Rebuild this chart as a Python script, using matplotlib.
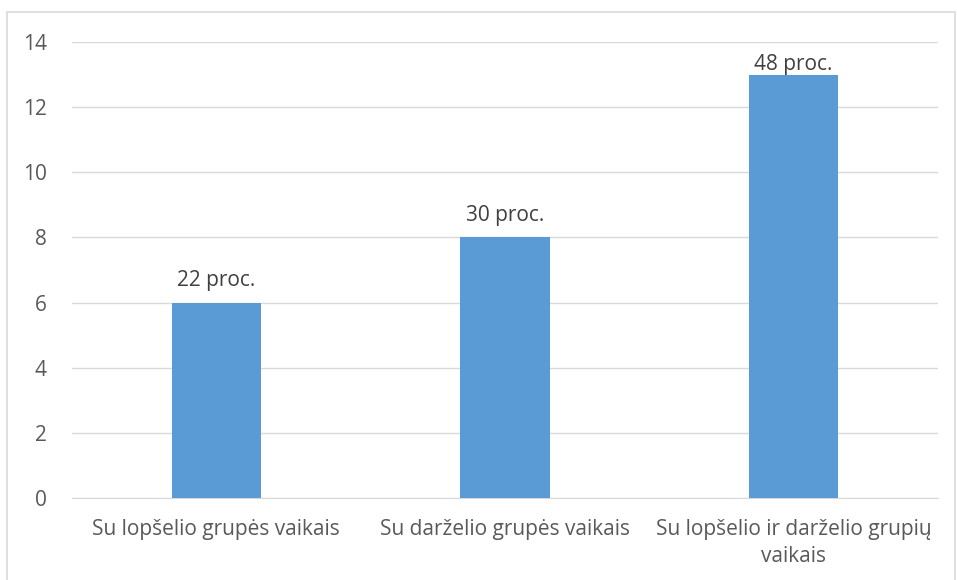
import matplotlib.pyplot as plt
from matplotlib.patches import Rectangle

categories = ["Su lopšelio grupės vaikais", "Su darželio grupės vaikais",
              "Su lopšelio ir darželio grupių\nvaikais"]
values = [6, 8, 13]
labels = ["22 proc.", "30 proc.", "48 proc."]

plt.rcParams['font.family'] = ['Open Sans', 'DejaVu Sans']

fig = plt.figure(figsize=(9.57, 5.8), dpi=100)
ax = fig.add_axes([0.0752, 0.1414, 0.9048, 0.7862])

# outer chart frame
fig.patches.append(Rectangle((7 / 957, -0.1), 948 / 957, 1.1 - 12 / 580,
                             transform=fig.transFigure, fill=False,
                             edgecolor='#d9d9d9', lw=1.2))

x = range(len(categories))
bars = ax.bar(x, values, width=0.31, color='#5b9bd5', zorder=3)

offsets = [12, 12, 3.5]
for b, lab, off in zip(bars, labels, offsets):
    ax.annotate(lab, (b.get_x() + b.get_width() / 2, b.get_height()),
                xytext=(0, off), textcoords='offset points',
                ha='center', va='baseline', fontsize=15, color='#404040')

ax.set_xlim(-0.5, 2.5)
ax.set_ylim(0, 14)
ax.set_yticks(range(0, 15, 2))
ax.set_xticks(list(x))
ax.set_xticklabels(categories, fontsize=15, color='#595959', linespacing=1.4)
ax.tick_params(axis='y', labelsize=15, labelcolor='#595959', length=0, pad=18)
ax.tick_params(axis='x', length=0, pad=15)
ax.grid(axis='y', color='#d9d9d9', lw=1, zorder=0)
for s in ['top', 'right', 'left']:
    ax.spines[s].set_visible(False)
ax.spines['bottom'].set_color('#d9d9d9')

fig.savefig('out.png', dpi=100)
